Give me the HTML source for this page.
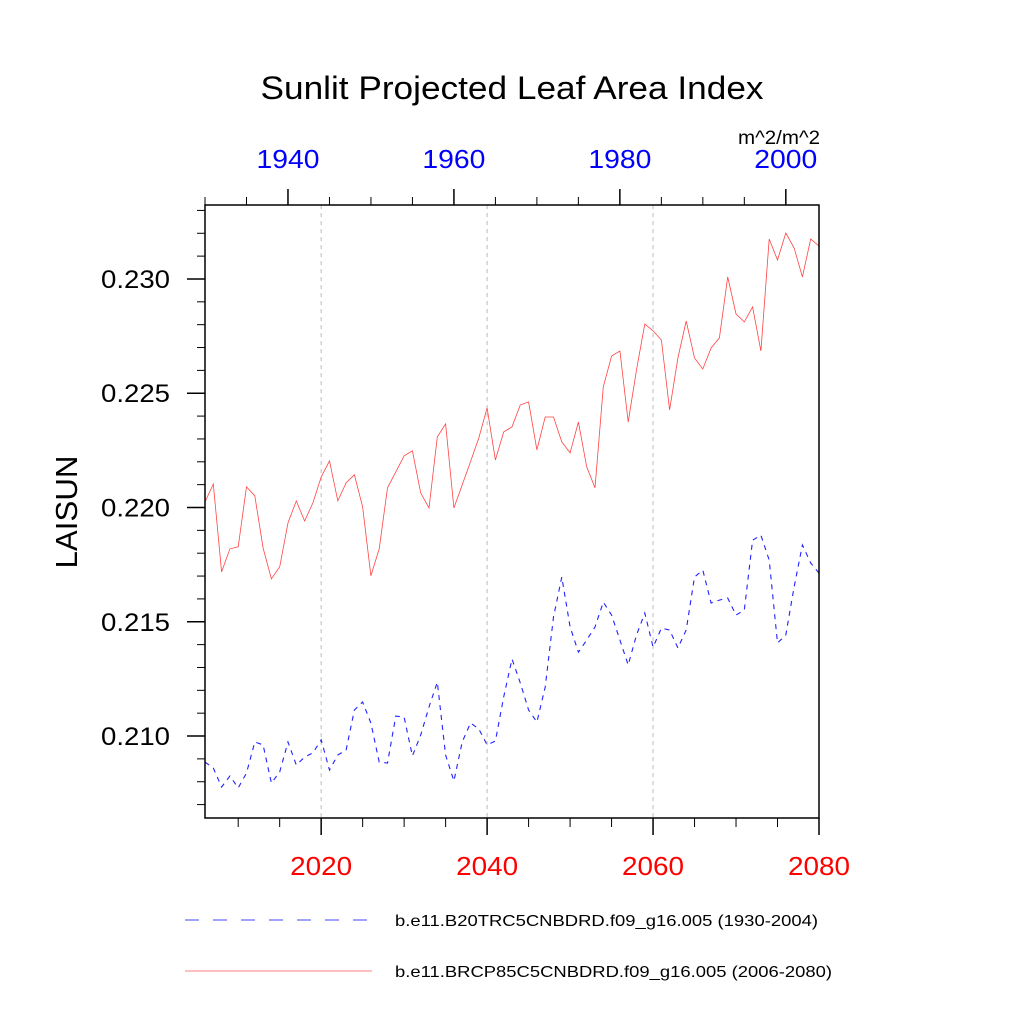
<!DOCTYPE html>
<html><head><meta charset="utf-8"><style>
html,body{margin:0;padding:0;background:#fff;}
svg text{font-family:"Liberation Sans",Arial,sans-serif;}
</style></head><body>
<svg id="chart" width="1024" height="1024" viewBox="0 0 1024 1024" xmlns="http://www.w3.org/2000/svg">
<rect width="1024" height="1024" fill="#fff"/>
<text x="512" y="99" font-size="32" text-anchor="middle" textLength="503" lengthAdjust="spacingAndGlyphs">Sunlit Projected Leaf Area Index</text>
<text x="820" y="144" font-size="19" text-anchor="end" textLength="82" lengthAdjust="spacingAndGlyphs">m^2/m^2</text>
<text transform="translate(77,512) rotate(-90)" font-size="31" text-anchor="middle" textLength="113" lengthAdjust="spacingAndGlyphs">LAISUN</text>
<g id="grid"></g>
<g id="ticks"></g>
<g id="series"></g>
<rect x="205" y="205" width="614" height="613" fill="none" stroke="#000" stroke-width="1.5"/>
<g id="labels"></g>
<line x1="185" y1="920" x2="372" y2="920" stroke="#4444ff" stroke-width="0.9" stroke-dasharray="14,14"/>
<text x="395" y="926" font-size="16" textLength="423" lengthAdjust="spacingAndGlyphs">b.e11.B20TRC5CNBDRD.f09_g16.005 (1930-2004)</text>
<line x1="185" y1="971" x2="372" y2="971" stroke="#ff5555" stroke-width="0.8"/>
<text x="395" y="977" font-size="16" textLength="437" lengthAdjust="spacingAndGlyphs">b.e11.BRCP85C5CNBDRD.f09_g16.005 (2006-2080)</text>
</svg>
<script>
const redValues=[0.22024,0.22103,0.21718,0.21819,0.21828,0.22090,0.22051,0.21823,0.21688,0.21740,0.21933,0.22029,0.21941,0.22020,0.22134,0.22204,0.22029,0.22108,0.22143,0.22003,0.21701,0.21819,0.22086,0.22156,0.22226,0.22248,0.22064,0.21998,0.22309,0.22366,0.21998,0.22099,0.22200,0.22304,0.22436,0.22208,0.22331,0.22353,0.22449,0.22462,0.22252,0.22396,0.22396,0.22287,0.22239,0.22374,0.22178,0.22086,0.22528,0.22663,0.22685,0.22374,0.22602,0.22803,0.22773,0.22733,0.22427,0.22654,0.22816,0.22654,0.22606,0.22698,0.22742,0.23009,0.22847,0.22812,0.22878,0.22685,0.23175,0.23083,0.23201,0.23136,0.23009,0.23175,0.23144];
const blueValues=[0.20886,0.20860,0.20777,0.20825,0.20773,0.20838,0.20974,0.20961,0.20794,0.20843,0.20974,0.20873,0.20908,0.20926,0.20983,0.20851,0.20917,0.20939,0.21114,0.21149,0.21057,0.20886,0.20882,0.21087,0.21083,0.20913,0.21004,0.21127,0.21236,0.20917,0.20803,0.20974,0.21057,0.21031,0.20961,0.20978,0.21171,0.21337,0.21232,0.21114,0.21061,0.21214,0.21521,0.21696,0.21477,0.21367,0.21420,0.21477,0.21586,0.21529,0.21420,0.21311,0.21442,0.21538,0.21389,0.21472,0.21464,0.21385,0.21464,0.21696,0.21726,0.21582,0.21595,0.21604,0.21529,0.21551,0.21857,0.21879,0.21770,0.21407,0.21442,0.21652,0.21836,0.21757,0.21713];
const bottomTickLabels=["2020","2040","2060","2080"];
const topTickLabels=["1940","1960","1980","2000"];
const yTickLabels=["0.210","0.215","0.220","0.225","0.230"];
const redStartYear=2006, blueStartYear=1930;

const NS="http://www.w3.org/2000/svg";
const X0=205,X1=819,Y0=818,Y1=205;
const yMin=0.210-82/22860, yMax=0.230+74/22860;
function xBottom(yr){return X0+(yr-2006)/(2080-2006)*(X1-X0);}
function xTop(yr){return X0+(yr-1930)/(2004-1930)*(X1-X0);}
function yScale(v){return Y0-(v-yMin)/(yMax-yMin)*(Y0-Y1);}
function mk(tag,attrs,parent){const e=document.createElementNS(NS,tag);for(const k in attrs)e.setAttribute(k,attrs[k]);document.getElementById(parent).appendChild(e);return e;}

for(let yr=2010;yr<=2080;yr+=5){
  const x=xBottom(yr), major=(yr%20===0);
  const t=mk('line',{x1:x,y1:Y0,x2:x,y2:Y0+(major?17:9),stroke:'#000','stroke-width':major?1.5:1},'ticks');
  
  
  if(major&&yr<2080){
    const g=mk('line',{x1:x,y1:Y1,x2:x,y2:Y0,stroke:'#bbb','stroke-width':1,'stroke-dasharray':'4,4'},'grid');
    
    
  }
}
bottomTickLabels.forEach(s=>{
  const t=mk('text',{x:xBottom(+s),y:875,'font-size':26,'text-anchor':'middle',fill:'#ff0000',textLength:62,lengthAdjust:'spacingAndGlyphs'},'labels');
  t.textContent=s;
  
  
});
for(let yr=1930;yr<=2004;yr+=5){
  const x=xTop(yr), major=(yr%20===0);
  const t=mk('line',{x1:x,y1:Y1,x2:x,y2:Y1-(major?16:8),stroke:'#000','stroke-width':major?1.5:1},'ticks');
  
  
}
topTickLabels.forEach(s=>{
  const t=mk('text',{x:xTop(+s),y:168,'font-size':26,'text-anchor':'middle',fill:'#0000ff',textLength:63,lengthAdjust:'spacingAndGlyphs'},'labels');
  t.textContent=s;
  
  
});
for(let k=207;k<=233;k++){
  const v=k/1000, y=yScale(v); if(y<Y1-0.5||y>Y0+0.5)continue;
  const major=(k%5===0);
  const t=mk('line',{x1:X0,y1:y,x2:X0-(major?18:8),y2:y,stroke:'#000','stroke-width':major?1.5:1},'ticks');
  
  
}
yTickLabels.forEach(s=>{
  const t=mk('text',{x:170,y:yScale(+s)+9,'font-size':25,'text-anchor':'end',textLength:69,lengthAdjust:'spacingAndGlyphs'},'labels');
  t.textContent=s;
  
  
});
const bp=blueValues.map((v,i)=>xTop(blueStartYear+i).toFixed(1)+','+yScale(v).toFixed(1)).join(' ');
const bl=mk('polyline',{points:bp,fill:'none',stroke:'#2222ff','stroke-width':1.1,'stroke-dasharray':'5,5'},'series');


const rp=redValues.map((v,i)=>xBottom(redStartYear+i).toFixed(1)+','+yScale(v).toFixed(1)).join(' ');
const rl=mk('polyline',{points:rp,fill:'none',stroke:'#ff4444','stroke-width':0.8},'series');


</script>
</body></html>
